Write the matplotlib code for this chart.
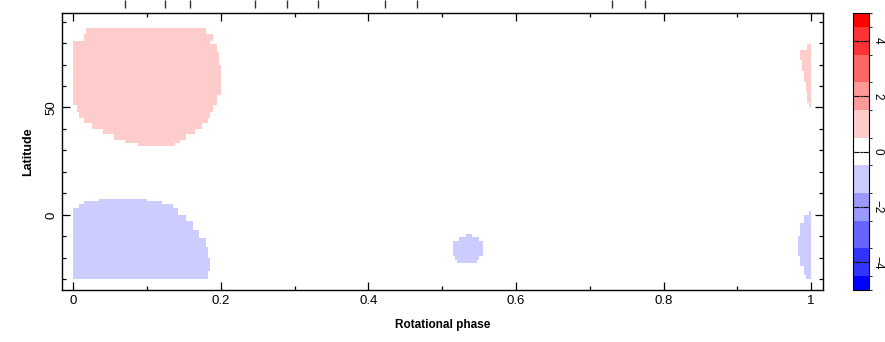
import matplotlib as mpl
mpl.use("Agg")
import matplotlib.pyplot as plt
import matplotlib.transforms as mtransforms
from matplotlib.colors import ListedColormap, BoundaryNorm
import numpy as np

plt.rcParams['font.family'] = ['Liberation Sans', 'DejaVu Sans']

# phases of the observations (marks above the map)
obs_phases = [0.070, 0.125, 0.158, 0.247, 0.290, 0.332, 0.422, 0.466, 0.730, 0.775]

# spot outlines, one row per latitude band: (lat low, lat high, phase left, phase right)
red_spot = [
    (84.0, 87.0, 0.018, 0.179),
    (81.0, 84.0, 0.014, 0.190),
    (79.5, 81.0, 0.000, 0.186),
    (76.0, 79.5, 0.000, 0.195),
    (70.0, 76.0, 0.000, 0.197),
    (56.0, 70.0, 0.000, 0.199),
    (51.0, 56.0, 0.000, 0.195),
    (48.0, 51.0, 0.004, 0.190),
    (45.0, 48.0, 0.007, 0.186),
    (43.0, 45.0, 0.016, 0.183),
    (40.0, 43.0, 0.025, 0.176),
    (37.5, 40.0, 0.041, 0.165),
    (35.0, 37.5, 0.054, 0.152),
    (33.5, 35.0, 0.070, 0.145),
    (32.0, 33.5, 0.088, 0.138),
]
red_spot_wrap = [
    (77.0, 79.5, 0.995, 1.0),
    (72.0, 77.0, 0.985, 1.0),
    (67.0, 72.0, 0.987, 1.0),
    (62.0, 67.0, 0.990, 1.0),
    (57.0, 62.0, 0.993, 1.0),
    (52.0, 57.0, 0.996, 1.0),
    (50.0, 52.0, 0.998, 1.0),
]
blue_spot = [
    (6.5, 7.5, 0.034, 0.100),
    (5.0, 6.5, 0.016, 0.120),
    (3.0, 5.0, 0.007, 0.134),
    (0.0, 3.0, 0.000, 0.142),
    (-3.0, 0.0, 0.000, 0.152),
    (-7.0, -3.0, 0.000, 0.163),
    (-11.0, -7.0, 0.000, 0.171),
    (-15.0, -11.0, 0.000, 0.179),
    (-20.0, -15.0, 0.000, 0.183),
    (-26.0, -20.0, 0.000, 0.186),
    (-30.0, -26.0, 0.000, 0.183),
]
blue_spot_wrap = [
    (0.0, 2.0, 0.997, 1.0),
    (-4.0, 0.0, 0.989, 1.0),
    (-10.0, -4.0, 0.984, 1.0),
    (-19.0, -10.0, 0.982, 1.0),
    (-24.0, -19.0, 0.985, 1.0),
    (-28.0, -24.0, 0.989, 1.0),
    (-30.0, -28.0, 0.992, 1.0),
]
small_blue_spot = [
    (-10.5, -9.0, 0.533, 0.540),
    (-12.0, -10.5, 0.522, 0.551),
    (-19.0, -12.0, 0.516, 0.556),
    (-21.0, -19.0, 0.518, 0.551),
    (-22.5, -21.0, 0.520, 0.547),
]
spots = [(red_spot, 1), (red_spot_wrap, 1), (blue_spot, -1),
         (blue_spot_wrap, -1), (small_blue_spot, -1)]

levels = [-5, -4, -3, -2, -1, 0, 1, 2, 3, 4, 5]

# map grid
phase_edges = np.arange(0, 1.0001, 0.0025)
lat_edges = np.arange(-31, 88.01, 0.5)
pc = 0.5 * (phase_edges[1:] + phase_edges[:-1])
lc = 0.5 * (lat_edges[1:] + lat_edges[:-1])
P, L = np.meshgrid(pc, lc)
field = np.zeros(P.shape)
for rows, val in spots:
    for lo, hi, p0, p1 in rows:
        field[(L >= lo) & (L < hi) & (P >= p0) & (P <= p1)] = val

# blue - white - red in 11 steps
cols = []
for k in levels:
    f = abs(k) / 5.0
    cols.append((1, 1 - f, 1 - f) if k > 0 else (1 - f, 1 - f, 1))
cmap = ListedColormap(cols)
bounds = [-5] + [k + 0.5 for k in levels[:-1]] + [5]
norm = BoundaryNorm(bounds, cmap.N)

fig = plt.figure(figsize=(8.85, 3.42), dpi=100)
ax = fig.add_axes([62 / 885, 52 / 342, 761 / 885, 277 / 342])
mesh = ax.pcolormesh(phase_edges, lat_edges, field, cmap=cmap, norm=norm)

ax.set_xlim(-0.015, 1.016)
ax.set_ylim(-35, 94)
ax.set_xticks([0, 0.2, 0.4, 0.6, 0.8, 1])
ax.set_xticklabels(['0', '0.2', '0.4', '0.6', '0.8', '1'])
ax.set_xticks(np.arange(0, 1.01, 0.1), minor=True)
ax.set_yticks([0, 50])
ax.set_yticks(np.arange(-30, 91, 10), minor=True)
ax.tick_params(which='both', direction='in', top=True, right=True, labelsize=9.5, width=0.9)
ax.tick_params(which='major', length=6)
ax.tick_params(which='minor', length=3)
for lab in ax.get_yticklabels():
    lab.set_rotation(90)
    lab.set_va('center')
for s in ax.spines.values():
    s.set_linewidth(1.0)

ax.set_xlabel("Rotational phase", fontsize=8.5, fontweight='bold', labelpad=9)
ax.set_ylabel("Latitude", fontsize=9, fontweight='bold', labelpad=8)

# observation phases, drawn above the frame
trans = mtransforms.blended_transform_factory(ax.transData, ax.transAxes)
ax.vlines(obs_phases, 1 + 5 / 277, 1 + 13 / 277, transform=trans, color='#333333',
          linewidth=1.0, clip_on=False)

cax = fig.add_axes([853 / 885, 52 / 342, 15.5 / 885, 277 / 342])
cb = fig.colorbar(mesh, cax=cax, boundaries=bounds, spacing='proportional',
                  ticks=[-4, -2, 0, 2, 4])
cb.outline.set_linewidth(0.8)
cax.tick_params(direction='in', length=4, labelsize=8.5, width=0.8, left=True, right=True, pad=2)
cax.set_yticklabels(['−4', '−2', '0', '2', '4'], rotation=270, va='center')
for k in [-4, -2, 0, 2, 4]:
    cax.axhline(k, color='#222222', linewidth=0.8, linestyle=(0, (3, 3)))

fig.savefig("out.png", dpi=100)
